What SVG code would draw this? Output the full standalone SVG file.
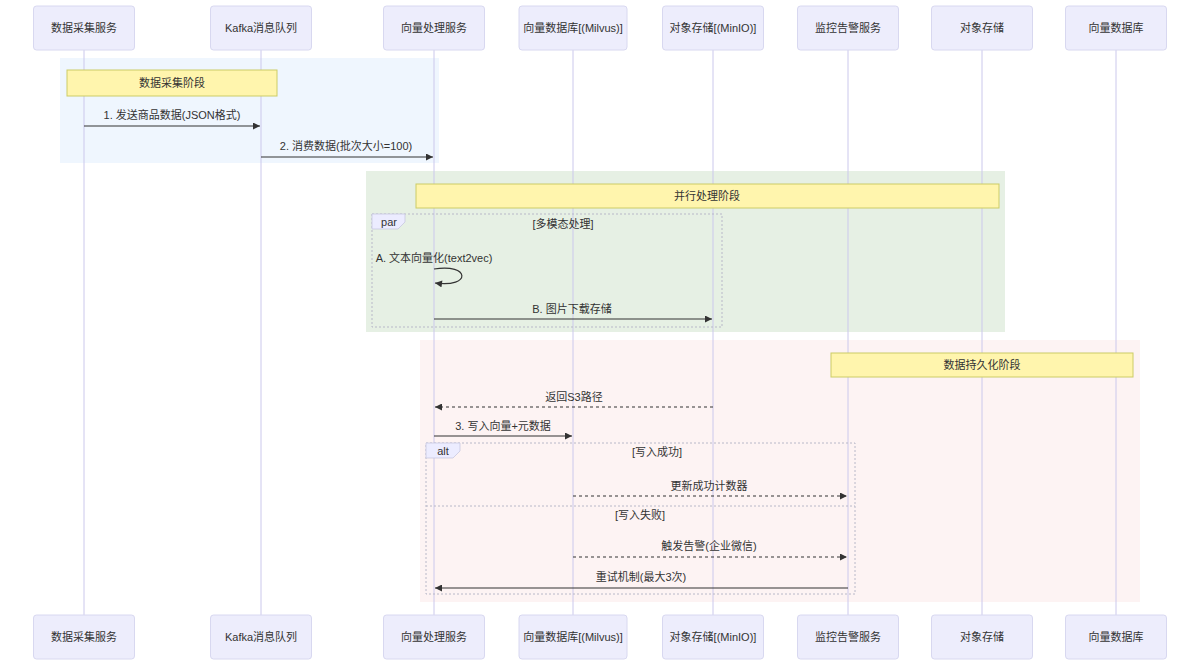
<svg xmlns="http://www.w3.org/2000/svg" width="1200" height="666" viewBox="0 0 1200 666">
<style>
text{font-family:"Liberation Sans","Noto Sans CJK SC",sans-serif;font-size:11px;fill:#333;text-anchor:middle;dominant-baseline:central}
.actor rect{fill:#EDEDFC;stroke:#D8D8F0;stroke-width:1}
.life{stroke:#CBC8EC;stroke-width:1}
.note{fill:#FFF5AD;stroke:#CCCC66;stroke-width:1}
.msg{stroke:#333;stroke-width:1.2;fill:none}
.dash{stroke-dasharray:3,3}
.frame{fill:none;stroke:#B8B8C8;stroke-width:1;stroke-dasharray:2,2}
.tab{fill:#ECECFF;stroke:#C8C8E0;stroke-width:0.8}
</style>
<defs>
<marker id="ah" viewBox="0 0 10 10" refX="10" refY="5" markerWidth="9" markerHeight="7" markerUnits="userSpaceOnUse" orient="auto">
<path d="M0,0 L10,5 L0,10 z" fill="#333"/>
</marker>
</defs>
<rect width="1200" height="666" fill="#fff"/>
<g id="sections">
<rect x="60" y="58" width="379" height="105" fill="#EFF6FE"/>
<rect x="366" y="171" width="639" height="161" fill="#E6F0E4"/>
<rect x="420" y="340" width="720" height="262" fill="#FDF3F3"/>
</g>
<g id="lifelines">
<line class="life" x1="84" y1="50" x2="84" y2="615"/>
<line class="life" x1="261" y1="50" x2="261" y2="615"/>
<line class="life" x1="434" y1="50" x2="434" y2="615"/>
<line class="life" x1="573" y1="50" x2="573" y2="615"/>
<line class="life" x1="713" y1="50" x2="713" y2="615"/>
<line class="life" x1="848" y1="50" x2="848" y2="615"/>
<line class="life" x1="982" y1="50" x2="982" y2="615"/>
<line class="life" x1="1116" y1="50" x2="1116" y2="615"/>
</g>
<g id="actor-collector" class="actor"><rect x="33.5" y="6" width="101" height="44" rx="3"/><text x="84" y="28">数据采集服务</text><rect x="33.5" y="615" width="101" height="44" rx="3"/><text x="84" y="637">数据采集服务</text></g>
<g id="actor-kafka" class="actor"><rect x="210.5" y="6" width="101" height="44" rx="3"/><text x="261" y="28">Kafka消息队列</text><rect x="210.5" y="615" width="101" height="44" rx="3"/><text x="261" y="637">Kafka消息队列</text></g>
<g id="actor-vecproc" class="actor"><rect x="383.5" y="6" width="101" height="44" rx="3"/><text x="434" y="28">向量处理服务</text><rect x="383.5" y="615" width="101" height="44" rx="3"/><text x="434" y="637">向量处理服务</text></g>
<g id="actor-milvus" class="actor"><rect x="519" y="6" width="108" height="44" rx="3"/><text x="573" y="28">向量数据库[(Milvus)]</text><rect x="519" y="615" width="108" height="44" rx="3"/><text x="573" y="637">向量数据库[(Milvus)]</text></g>
<g id="actor-minio" class="actor"><rect x="662.5" y="6" width="101" height="44" rx="3"/><text x="713" y="28">对象存储[(MinIO)]</text><rect x="662.5" y="615" width="101" height="44" rx="3"/><text x="713" y="637">对象存储[(MinIO)]</text></g>
<g id="actor-monitor" class="actor"><rect x="797.5" y="6" width="101" height="44" rx="3"/><text x="848" y="28">监控告警服务</text><rect x="797.5" y="615" width="101" height="44" rx="3"/><text x="848" y="637">监控告警服务</text></g>
<g id="actor-objstore" class="actor"><rect x="931.5" y="6" width="101" height="44" rx="3"/><text x="982" y="28">对象存储</text><rect x="931.5" y="615" width="101" height="44" rx="3"/><text x="982" y="637">对象存储</text></g>
<g id="actor-vecdb" class="actor"><rect x="1065.5" y="6" width="101" height="44" rx="3"/><text x="1116" y="28">向量数据库</text><rect x="1065.5" y="615" width="101" height="44" rx="3"/><text x="1116" y="637">向量数据库</text></g>
<g id="notes">
<g id="note-collect"><rect class="note" x="67" y="70" width="210" height="26"/><text x="172" y="83">数据采集阶段</text></g>
<g id="note-parallel"><rect class="note" x="416" y="184" width="583" height="24"/><text x="707" y="196">并行处理阶段</text></g>
<g id="note-persist"><rect class="note" x="831" y="353" width="302" height="24"/><text x="982" y="365">数据持久化阶段</text></g>
</g>
<g id="frames">
<g id="frame-par">
<rect class="frame" x="372" y="214" width="350" height="113"/>
<polygon class="tab" points="372,214 405,214 405,222 398,229 372,229"/>
<text x="389" y="222">par</text>
<text x="563" y="224">[多模态处理]</text>
</g>
<g id="frame-alt">
<rect class="frame" x="426" y="443" width="429" height="151"/>
<polygon class="tab" points="426,443 460,443 460,451 453,458 426,458"/>
<text x="443" y="451">alt</text>
<text x="657" y="452">[写入成功]</text>
<line class="frame" x1="426" y1="506" x2="855" y2="506"/>
<text x="640" y="515">[写入失败]</text>
</g>
</g>
<g id="connectors">
<line class="msg" x1="84" y1="126" x2="260" y2="126" marker-end="url(#ah)"/>
<text x="172" y="115">1. 发送商品数据(JSON格式)</text>
<line class="msg" x1="261" y1="157" x2="433" y2="157" marker-end="url(#ah)"/>
<text x="346" y="146">2. 消费数据(批次大小=100)</text>
<text x="434" y="258">A. 文本向量化(text2vec)</text>
<path class="msg" d="M434,269 C470,263 472,288 435,283" marker-end="url(#ah)"/>
<line class="msg" x1="434" y1="319" x2="712" y2="319" marker-end="url(#ah)"/>
<text x="572" y="309">B. 图片下载存储</text>
<line class="msg dash" x1="713" y1="407" x2="435" y2="407" marker-end="url(#ah)"/>
<text x="574" y="397">返回S3路径</text>
<line class="msg" x1="434" y1="436" x2="572" y2="436" marker-end="url(#ah)"/>
<text x="503" y="426">3. 写入向量+元数据</text>
<line class="msg dash" x1="573" y1="496" x2="847" y2="496" marker-end="url(#ah)"/>
<text x="709" y="486">更新成功计数器</text>
<line class="msg dash" x1="573" y1="557" x2="847" y2="557" marker-end="url(#ah)"/>
<text x="709" y="546">触发告警(企业微信)</text>
<line class="msg" x1="848" y1="588" x2="435" y2="588" marker-end="url(#ah)"/>
<text x="641" y="577">重试机制(最大3次)</text>
</g>
</svg>
